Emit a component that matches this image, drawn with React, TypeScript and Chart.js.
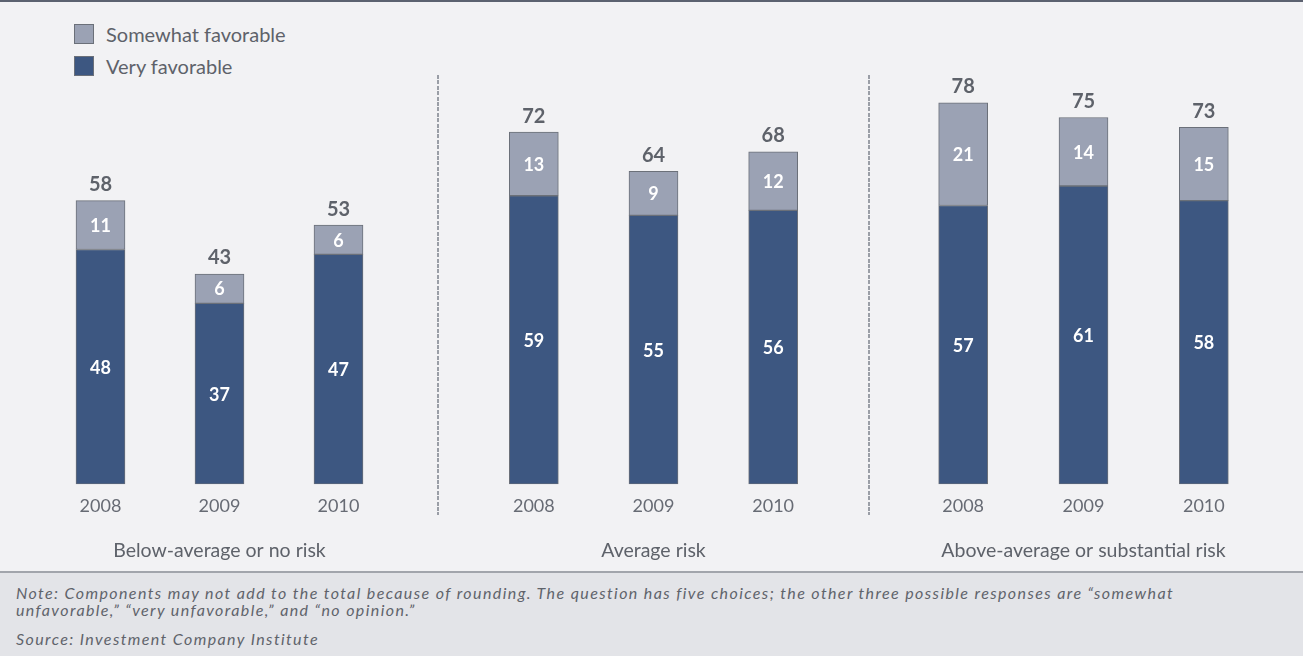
import React, { useEffect, useRef } from 'react';
import { Chart, registerables } from 'chart.js';
Chart.register(...registerables);

const years = ['2008', '2009', '2010'];
const groupTitles = ['Below-average or no risk', 'Average risk', 'Above-average or substantial risk'];
const veryFavorable = [
  [48, 37, 47],
  [59, 55, 56],
  [57, 61, 58],
];
const somewhatFavorable = [
  [11, 6, 6],
  [13, 9, 12],
  [21, 14, 15],
];
const totals = [
  [58, 43, 53],
  [72, 64, 68],
  [78, 75, 73],
];
const seriesNames = ['Very favorable', 'Somewhat favorable'];

const DARK = '#3d5781';
const LIGHT = '#9ba2b4';
const BORDER = '#6b7079';
const TEXT = '#5e626a';
const FONT = 'Lato, "Open Sans", sans-serif';

const labelPlugin = {
  id: 'barLabels',
  afterDatasetsDraw(chart: any) {
    const ctx = chart.ctx;
    chart.data.datasets.forEach((ds: any, di: number) => {
      const meta = chart.getDatasetMeta(di);
      meta.data.forEach((el: any, i: number) => {
        const { x, y, base } = el.getProps(['x', 'y', 'base'], true);
        const top = Math.min(y, base);
        const bottom = Math.max(y, base);
        ctx.save();
        ctx.textAlign = 'center';
        ctx.textBaseline = 'middle';
        ctx.fillStyle = '#ffffff';
        ctx.font = `700 18px ${FONT}`;
        ctx.fillText(String(ds.valueLabels[i]), x, (top + bottom) / 2 + 1);
        if (ds.totalLabels) {
          ctx.fillStyle = TEXT;
          ctx.font = `700 20px ${FONT}`;
          ctx.fillText(String(ds.totalLabels[i]), x, top - 16);
        }
        ctx.restore();
      });
    });
  },
};

function GroupChart({ g, left, width }: { g: number; left: number; width: number }) {
  const ref = useRef<HTMLCanvasElement>(null);
  useEffect(() => {
    if (!ref.current) return;
    const chart = new Chart(ref.current, {
      type: 'bar',
      data: {
        labels: years,
        datasets: [
          {
            label: seriesNames[0],
            data: veryFavorable[g],
            backgroundColor: DARK,
            borderColor: BORDER,
            borderWidth: 1,
            borderSkipped: false,
            barThickness: 49,
            grouped: false,
            valueLabels: veryFavorable[g],
          } as any,
          {
            label: seriesNames[1],
            data: veryFavorable[g].map((v, i) => [v, totals[g][i]]),
            backgroundColor: LIGHT,
            borderColor: BORDER,
            borderWidth: 1,
            borderSkipped: false,
            barThickness: 49,
            grouped: false,
            valueLabels: somewhatFavorable[g],
            totalLabels: totals[g],
          } as any,
        ],
      },
      options: {
        animation: false,
        responsive: false,
        layout: { padding: { top: 18.65, bottom: 0, left: 0, right: 0 } },
        plugins: { legend: { display: false }, tooltip: { enabled: false } },
        scales: {
          x: {
            grid: { display: false, drawTicks: false },
            border: { display: false },
            ticks: { color: '#676b74', font: { family: FONT, size: 18 }, padding: 11 },
            title: {
              display: true,
              text: groupTitles[g],
              color: TEXT,
              font: { family: FONT, size: 19.5 },
              padding: { top: 10.8, bottom: 0 },
            },
          },
          y: { display: false, min: 0, max: 85 },
        },
      },
      plugins: [labelPlugin],
    });
    return () => chart.destroy();
  }, [g]);
  return (
    <canvas
      ref={ref}
      width={width}
      height={512}
      style={{ position: 'absolute', left, top: 50, width, height: 512 }}
    />
  );
}

function Separator({ x }: { x: number }) {
  return (
    <div
      style={{
        position: 'absolute',
        left: x,
        top: 75,
        width: 1.5,
        height: 440,
        background: 'repeating-linear-gradient(to bottom, #9a9ea6 0px, #9a9ea6 4px, transparent 4px, transparent 5.4px)',
      }}
    />
  );
}

function LegendItem({ color, text, top }: { color: string; text: string; top: number }) {
  return (
    <div style={{ position: 'absolute', left: 74, top, height: 20, display: 'flex', alignItems: 'center' }}>
      <div style={{ width: 20, height: 20, background: color, border: `1px solid ${BORDER}`, boxSizing: 'border-box' }} />
      <span style={{ marginLeft: 12, fontFamily: FONT, fontSize: 20, color: TEXT, whiteSpace: 'nowrap' }}>{text}</span>
    </div>
  );
}

export default function App() {
  return (
    <div
      style={{
        position: 'absolute',
        left: 0,
        top: 0,
        width: 1303,
        height: 656,
        overflow: 'hidden',
        background: '#f2f2f4',
      }}
    >
      <div style={{ position: 'absolute', left: 0, top: 0, width: 1303, height: 2, background: '#5c6270' }} />
      <LegendItem color={LIGHT} text={seriesNames[1]} top={24} />
      <LegendItem color={DARK} text={seriesNames[0]} top={56} />
      <GroupChart g={0} left={41} width={357} />
      <GroupChart g={1} left={474} width={359} />
      <GroupChart g={2} left={903} width={361} />
      <Separator x={437} />
      <Separator x={868} />
      <div
        style={{
          position: 'absolute',
          left: 0,
          top: 571,
          width: 1303,
          height: 85,
          background: '#e3e4e8',
          borderTop: '2px solid #a2a5ac',
          boxSizing: 'border-box',
          fontFamily: FONT,
          fontStyle: 'italic',
          fontSize: 16,
          letterSpacing: 1.4,
          color: '#5f636b',
        }}
      >
        <div style={{ position: 'absolute', left: 16, top: 11, lineHeight: '17px', whiteSpace: 'nowrap' }}>
          Note: Components may not add to the total because of rounding. The question has five choices; the other three possible responses are “somewhat
          <br />
          unfavorable,” “very unfavorable,” and “no opinion.”
        </div>
        <div style={{ position: 'absolute', left: 16, top: 57, lineHeight: '17px', whiteSpace: 'nowrap' }}>
          Source: Investment Company Institute
        </div>
      </div>
    </div>
  );
}
